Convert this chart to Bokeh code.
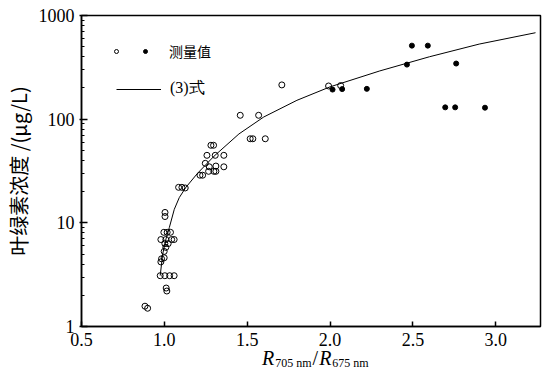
from bokeh.plotting import figure
from bokeh.models import Range1d, FixedTicker, Legend, LegendItem, Div
from bokeh.layouts import column
from bokeh.embed import file_html
from bokeh.resources import INLINE

# measured (open circles)
open_x = [0.883, 0.899, 1.011, 1.015, 0.975, 1.003, 1.032, 1.059,
          0.979, 0.983, 0.999, 0.999, 1.009, 1.003, 1.023,
          0.979, 1.009, 1.044, 1.059, 0.997, 1.017, 1.037, 1.004, 1.004,
          1.086, 1.106, 1.126, 1.215, 1.231, 1.267, 1.299, 1.311,
          1.271, 1.311, 1.359, 1.247, 1.257, 1.307, 1.359, 1.281, 1.297,
          1.458, 1.569, 1.518, 1.534, 1.609, 1.709, 1.991, 2.064]
open_y = [1.57, 1.50, 2.35, 2.2, 3.09, 3.09, 3.09, 3.09,
          4.2, 4.5, 4.6, 5.3, 5.8, 6.3, 6.3,
          6.9, 6.9, 6.9, 6.9, 8.1, 8.1, 8.1, 11.5, 12.6,
          22.0, 22.0, 21.7, 28.8, 28.8, 31.4, 31.4, 31.4,
          34.7, 35.3, 34.7, 37.5, 44.8, 44.8, 44.8, 56.0, 56.0,
          109, 109, 64.7, 64.7, 64.7, 214, 209, 211]

# measured (filled dots)
dot_x = [2.015, 2.073, 2.222, 2.464, 2.494, 2.590, 2.761, 2.695, 2.755, 2.935]
dot_y = [193, 195, 196, 336, 512, 512, 344, 130, 130, 129]

# equation (3) curve
curve_x = [0.975, 0.99, 1.01, 1.03, 1.06, 1.09, 1.13, 1.20, 1.30, 1.45,
           1.60, 1.80, 2.00, 2.30, 2.60, 2.90, 3.24]
curve_y = [3.1, 5.0, 7.0, 9.0, 13.5, 17.5, 22, 30, 44, 72,
           105, 152, 205, 292, 400, 530, 682]

x_ticks = [0.5, 1.0, 1.5, 2.0, 2.5, 3.0]
x_tick_labels = ["0.5", "1.0", "1.5", "2.0", "2.5", "3.0"]
y_ticks = [1, 10, 100, 1000]
y_tick_labels = ["1", "10", "100", "1000"]

legend_label_measured = "测量值"
legend_label_eq = "(3)式"
y_label = "叶绿素浓度 /(μg/L)"
x_label_parts = ["R", "705 nm", "/", "R", "675 nm"]

p = figure(frame_width=459, frame_height=311,
           x_range=Range1d(0.5, 3.27), y_range=Range1d(1, 1000),
           y_axis_type="log", output_backend="svg", toolbar_location=None,
           min_border_left=73, min_border_right=5, min_border_top=15,
           min_border_bottom=27)
p.grid.visible = False
p.outline_line_color = "black"
p.outline_line_width = 1.5
p.background_fill_color = "white"
p.border_fill_color = "white"

xa = p.xaxis[0]
xa.ticker = FixedTicker(ticks=x_ticks)
xa.major_label_overrides = {t: s for t, s in zip(x_ticks, x_tick_labels)}
xa.major_tick_in = 5
xa.major_tick_out = 0
xa.minor_tick_line_color = None
xa.major_label_standoff = 6
xa.axis_label = None

ya = p.yaxis[0]
ya.ticker = FixedTicker(ticks=y_ticks,
                        minor_ticks=[m * 10 ** k for k in range(3) for m in range(2, 10)])
ya.major_label_overrides = {t: s for t, s in zip(y_ticks, y_tick_labels)}
ya.major_tick_in = 6
ya.major_tick_out = 2
ya.minor_tick_in = 3
ya.minor_tick_out = 0
ya.major_label_standoff = 5
ya.axis_label = y_label
ya.axis_label_text_font = "Noto Sans CJK SC"
ya.axis_label_text_font_size = "20px"
ya.axis_label_text_font_style = "normal"
ya.axis_label_text_color = "black"
ya.axis_label_standoff = 3

for ax in (xa, ya):
    ax.axis_line_width = 1.5
    ax.major_tick_line_width = 1.5
    ax.major_label_text_font = "Liberation Serif"
    ax.major_label_text_font_size = "18px"
    ax.major_label_text_color = "black"
    ax.axis_line_color = "black"
    ax.major_tick_line_color = "black"
ya.minor_tick_line_color = "black"

curve_r = p.line(curve_x, curve_y, line_color="black", line_width=1)
open_r = p.scatter(open_x, open_y, marker="circle", size=6, fill_color=None,
                   line_color="black", line_width=1)
dot_r = p.scatter(dot_x, dot_y, marker="circle", size=5, fill_color="black",
                  line_color="black")

leg1 = Legend(items=[LegendItem(label=" ", renderers=[open_r]),
                     LegendItem(label=legend_label_measured, renderers=[dot_r])],
              orientation="horizontal", location=(30, 265),
              glyph_width=10, glyph_height=20, label_height=20, label_width=0,
              label_standoff=19, spacing=0, padding=0, margin=0,
              border_line_color=None, background_fill_alpha=0,
              label_text_font="Noto Sans CJK SC", label_text_font_size="14px",
              label_text_color="black")
leg2 = Legend(items=[LegendItem(label=legend_label_eq, renderers=[curve_r])],
              location=(35, 227),
              glyph_width=45, glyph_height=20, label_height=20, label_width=0,
              label_standoff=9, padding=0, margin=0,
              border_line_color=None, background_fill_alpha=0,
              label_text_font="Liberation Serif", label_text_font_size="16px",
              label_text_color="black")
p.add_layout(leg1)
p.add_layout(leg2)

sub = '<span style="font-size:12px;vertical-align:-2px;margin-left:1px">{}</span>'
html = ('<div style="position:relative;top:-10px;padding-left:257px;'
        'font-family:\'Liberation Serif\';font-size:20px;line-height:20px;'
        'color:black;white-space:nowrap">'
        '<i>{}</i>{}<span style="margin:0 1px">{}</span><i>{}</i>{}</div>').format(
    x_label_parts[0], sub.format(x_label_parts[1]), x_label_parts[2],
    x_label_parts[3], sub.format(x_label_parts[4]))
div = Div(text=html, width=537, height=15)

layout = column(p, div, spacing=0)
open("out.html", "w").write(file_html(layout, INLINE))
